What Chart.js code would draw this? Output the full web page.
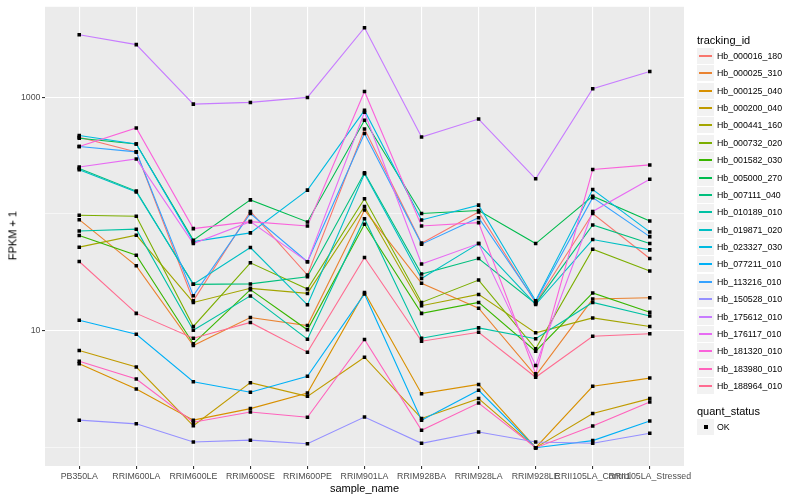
<!DOCTYPE html>
<html>
<head>
<meta charset="utf-8">
<script src="https://cdn.jsdelivr.net/npm/chart.js@4.4.0/dist/chart.umd.min.js"></script>
<style>
    body { margin: 0; background: #fff; font-family: "Liberation Sans", Arial, sans-serif; }
    #wrap { position: relative; width: 800px; height: 500px; }
    #chart { position: absolute; left: 0; top: 0; }
    .txt { position: absolute; white-space: nowrap; color: #000; }
    .key { position: absolute; width: 17px; height: 16px; background: #f2f2f2; }
    .key i { position: absolute; left: 2px; width: 13px; top: 7px; height: 2px; }
</style>
</head>
<body>
<div id="wrap">
    <canvas id="chart" width="800" height="500"></canvas>
    <div id="legend"></div>
</div>
<script>
// ===== DATA (FPKM + 1) =====
const categories = ['PB350LA', 'RRIM600LA', 'RRIM600LE', 'RRIM600SE', 'RRIM600PE', 'RRIM901LA',
    'RRIM928BA', 'RRIM928LA', 'RRIM928LE', 'RRII105LA_Control', 'RRII105LA_Stressed'];

const Hb_000016_180 = [453, 340, 18.1, 105, 30.0, 533, 56.3, 104, 17.4, 101, 41.6];
const Hb_000025_310 = [89.4, 36.0, 7.49, 13.0, 11.1, 108, 25.5, 15.6, 4.14, 18.7, 19.2];
const Hb_000125_040 = [5.23, 3.18, 1.72, 2.16, 2.94, 21.3, 2.90, 3.48, 1.0, 3.35, 3.94];
const Hb_000200_040 = [6.79, 4.90, 1.54, 3.60, 2.75, 5.95, 1.78, 2.63, 1.0, 1.96, 2.63];
const Hb_000441_160 = [52.0, 65.8, 17.5, 23.1, 20.9, 116, 16.4, 20.5, 9.61, 12.9, 10.9];
const Hb_000732_020 = [97.5, 95.6, 10.9, 38.2, 22.8, 135, 17.5, 27.2, 7.02, 50.0, 32.5];
const Hb_001582_030 = [65.3, 44.4, 7.75, 22.5, 10.2, 81.7, 14.1, 17.5, 6.70, 21.1, 14.4];
const Hb_005000_270 = [444, 397, 59.7, 132, 85.5, 633, 101, 107, 55.8, 142, 87.2];
const Hb_007111_040 = [245, 157, 25.0, 25.2, 29.0, 225, 30.6, 41.6, 17.1, 80.6, 55.8];
const Hb_010189_010 = [71.6, 74.1, 10.1, 19.9, 8.48, 91.2, 8.65, 10.6, 8.55, 17.5, 13.4];
const Hb_019871_020 = [239, 154, 25.0, 51.6, 16.7, 221, 28.1, 55.8, 16.8, 60.4, 49.3];
const Hb_023327_030 = [469, 397, 58.0, 68.9, 160, 770, 88.9, 119, 18.1, 162, 70.2];
const Hb_077211_010 = [12.3, 9.35, 3.67, 2.98, 4.08, 20.7, 1.72, 3.10, 1.0, 1.15, 1.69];
const Hb_113216_010 = [378, 340, 20.0, 101, 39.0, 488, 55.2, 93.0, 17.8, 138, 64.0];
const Hb_150528_010 = [1.72, 1.60, 1.12, 1.16, 1.08, 1.83, 1.09, 1.36, 1.12, 1.09, 1.33];
const Hb_175612_010 = [3423, 2814, 871, 901, 994, 3930, 456, 649, 200, 1179, 1656];
const Hb_176117_010 = [252, 296, 55.8, 86.0, 39.0, 741, 37.3, 55.8, 5.06, 105, 198];
const Hb_181320_010 = [378, 544, 74.9, 86.0, 79.0, 1118, 79.0, 84.3, 4.30, 240, 263];
const Hb_183980_010 = [5.50, 3.87, 1.65, 2.02, 1.82, 8.43, 1.41, 2.41, 1.0, 1.53, 2.46];
const Hb_188964_010 = [39.2, 14.1, 8.65, 11.8, 6.57, 42.4, 8.15, 9.73, 4.01, 8.99, 9.43];

const seriesNames = ['Hb_000016_180', 'Hb_000025_310', 'Hb_000125_040', 'Hb_000200_040', 'Hb_000441_160',
    'Hb_000732_020', 'Hb_001582_030', 'Hb_005000_270', 'Hb_007111_040', 'Hb_010189_010',
    'Hb_019871_020', 'Hb_023327_030', 'Hb_077211_010', 'Hb_113216_010', 'Hb_150528_010',
    'Hb_175612_010', 'Hb_176117_010', 'Hb_181320_010', 'Hb_183980_010', 'Hb_188964_010'];
const seriesValues = [Hb_000016_180, Hb_000025_310, Hb_000125_040, Hb_000200_040, Hb_000441_160,
    Hb_000732_020, Hb_001582_030, Hb_005000_270, Hb_007111_040, Hb_010189_010,
    Hb_019871_020, Hb_023327_030, Hb_077211_010, Hb_113216_010, Hb_150528_010,
    Hb_175612_010, Hb_176117_010, Hb_181320_010, Hb_183980_010, Hb_188964_010];

const yGridValues = [1, 10, 100, 1000];
const yTickLabels = [10, 1000];

// ggplot hue palette, 20 levels
const palette = ['#F8766D', '#EA8331', '#D89000', '#C09B00', '#A3A500', '#7CAE00', '#39B600', '#00BB4E',
    '#00BF7D', '#00C1A3', '#00BFC4', '#00BAE0', '#00B0F6', '#35A2FF', '#9590FF', '#C77CFF',
    '#E76BF3', '#FA62DB', '#FF62BC', '#FF6C91'];

const FONT = '"Liberation Sans", Arial, sans-serif';

// Grey panel behind the grid
const panelBackground = {
    id: 'panelBackground',
    beforeDraw(chart) {
        const { ctx, chartArea: a } = chart;
        ctx.save();
        ctx.fillStyle = '#EBEBEB';
        ctx.fillRect(a.left, a.top, a.right - a.left, a.bottom - a.top);
        ctx.restore();
    }
};

function buildChart() {
    const lineSets = seriesValues.map((vals, i) => ({
        label: seriesNames[i],
        data: vals.map((v, j) => ({ x: j, y: v })),
        borderColor: palette[i],
        borderWidth: 1.1,
        pointRadius: 0,
        fill: false,
        tension: 0,
        order: 100 - i
    }));

    // all points on top of all lines, like geom_point after geom_line
    const pointSet = {
        label: 'OK',
        data: seriesValues.flatMap(vals => vals.map((v, j) => ({ x: j, y: v }))),
        showLine: false,
        pointStyle: 'rect',
        pointRadius: 2.5,
        pointBackgroundColor: '#000',
        pointBorderWidth: 0,
        order: 0
    };

    new Chart(document.getElementById('chart'), {
        type: 'line',
        data: { datasets: [...lineSets, pointSet] },
        options: {
            responsive: false,
            animation: false,
            layout: { padding: { left: 0, right: 116, top: 4, bottom: 0 } },
            plugins: { legend: { display: false }, tooltip: { enabled: false } },
            scales: {
                x: {
                    type: 'linear',
                    min: -0.6,
                    max: categories.length - 0.4,
                    afterBuildTicks: s => { s.ticks = categories.map((c, i) => ({ value: i })); },
                    afterFit: s => { s.height = 34; },
                    border: { display: false },
                    grid: { color: '#fff', lineWidth: 1.1, drawTicks: true, tickLength: 3, tickColor: '#333' },
                    ticks: {
                        autoSkip: false, maxRotation: 0, minRotation: 0, padding: 2,
                        color: '#4D4D4D', font: { size: 8.8, family: FONT },
                        callback: v => categories[v]
                    }
                },
                y: {
                    type: 'logarithmic',
                    min: 0.697,
                    max: 5930,
                    afterBuildTicks: s => { s.ticks = yGridValues.map(v => ({ value: v })); },
                    afterFit: s => { s.width = 45; },
                    border: { display: false },
                    grid: {
                        color: '#fff',
                        lineWidth: c => yTickLabels.includes(c.tick.value) ? 1.1 : 0.55,
                        drawTicks: true,
                        tickLength: 3,
                        tickColor: c => yTickLabels.includes(c.tick.value) ? '#333' : 'rgba(0,0,0,0)'
                    },
                    ticks: {
                        autoSkip: false, padding: 1.5,
                        color: '#4D4D4D', font: { size: 8.8, family: FONT },
                        callback: v => yTickLabels.includes(v) ? String(v) : ''
                    }
                }
            }
        },
        plugins: [panelBackground]
    });
}

// HTML legend and axis titles
function addText(text, left, top, size, extra) {
    const el = document.createElement('div');
    el.className = 'txt';
    el.textContent = text;
    el.style.left = left + 'px';
    el.style.top = (top - size * 0.6) + 'px';
    el.style.fontSize = size + 'px';
    el.style.lineHeight = (size * 1.2) + 'px';
    if (extra) Object.assign(el.style, extra);
    document.getElementById('legend').appendChild(el);
    return el;
}

function buildLegend() {
    const box = document.getElementById('legend');
    addText('tracking_id', 697, 40.5, 11);
    seriesNames.forEach((name, i) => {
        const cy = 56 + i * 17.37;
        const key = document.createElement('div');
        key.className = 'key';
        key.style.left = '697px';
        key.style.top = Math.round(cy - 8) + 'px';
        const line = document.createElement('i');
        line.style.background = palette[i];
        key.appendChild(line);
        box.appendChild(key);
        addText(name, 717, Math.round(cy) + 0.5, 8.8);
    });

    addText('quant_status', 697, 411.5, 11);
    const okKey = document.createElement('div');
    okKey.className = 'key';
    okKey.style.left = '697px';
    okKey.style.top = '419px';
    okKey.innerHTML = '<i style="left:7px;width:4px;height:4px;top:6px;background:#000"></i>';
    box.appendChild(okKey);
    addText('OK', 717, 427.5, 8.8);

    // axis titles
    addText('sample_name', 364.5, 488.5, 11, { transform: 'translateX(-50%)' });
    const yt = addText('FPKM + 1', 12.5, 235.5, 11, {});
    yt.style.transform = 'translate(-50%, 0) rotate(-90deg)';
    yt.style.transformOrigin = '50% 50%';
}

buildChart();
buildLegend();
</script>
</body>
</html>
